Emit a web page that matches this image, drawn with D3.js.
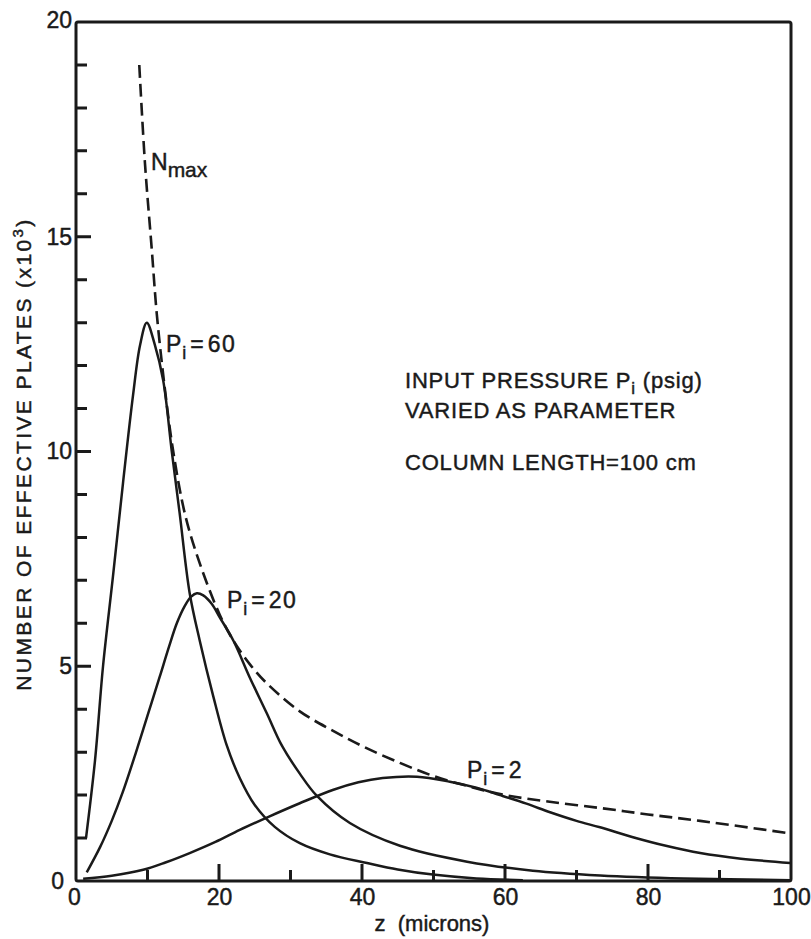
<!DOCTYPE html>
<html>
<head>
<meta charset="utf-8">
<script src="https://cdn.jsdelivr.net/npm/d3@7"></script>
<style>
  html, body { margin: 0; padding: 0; background: #fff; }
  svg { display: block; }
  text { font-family: "Liberation Sans", Arial, Helvetica, sans-serif; fill: #1a1a1a; stroke: #1a1a1a; stroke-width: 0.45; }
</style>
</head>
<body>
<svg id="chart" width="811" height="939"></svg>
<script>
// ---------------- DATA ----------------
const xTickLabels = [0, 20, 40, 60, 80, 100];
const xMinorTicks = [10, 30, 50, 70, 90];
const xMajorTicks = [20, 40, 60, 80];
const yTickLabels = [0, 5, 10, 15, 20];
const yMajorTicks = [5, 10, 15];
const yMinorTicks = [1,2,3,4,6,7,8,9,11,12,13,14,16,17,18,19];

// N_max (dashed)
const zNmax = [8.85, 9.65, 10.6, 11.3, 12.4, 13.6, 15.3, 17.3, 20.1, 22.0, 24.3, 26.7, 31.3, 35.9, 40.3, 45.3, 49.9, 55, 60, 66, 73.3, 80, 87.3, 99.4];
const vNmax = [19.0, 16.7, 14.7, 13.2, 11.5, 10.0, 8.5, 7.4, 6.2, 5.6, 5.05, 4.6, 3.95, 3.5, 3.12, 2.75, 2.45, 2.2, 2.0, 1.85, 1.70, 1.55, 1.40, 1.12];

// P_i = 60
const zP60 = [1.4, 2.66, 3.78, 5.17, 6.57, 7.97, 8.95, 9.9, 11.0, 12.2, 13.4, 14.5, 15.9, 17.3, 19.2, 21.1, 22.9, 25.0, 27.8, 31.3, 35.5, 40.7, 45, 49.9, 56, 62.5];
const vP60 = [1.0, 2.81, 5.0, 7.09, 9.26, 11.3, 12.47, 13.0, 12.5, 11.65, 10.0, 8.56, 6.7, 5.6, 4.3, 3.15, 2.4, 1.77, 1.26, 0.88, 0.62, 0.42, 0.27, 0.15, 0.06, 0.02];

// P_i = 20
const zP20 = [1.5, 3.4, 5.0, 6.5, 8.3, 10.0, 11.7, 13.0, 14.1, 15.2, 16.1, 16.9, 17.8, 19.0, 20.1, 22.0, 24.3, 26.7, 28.8, 31.3, 33.7, 38.3, 45.3, 54.7, 63.9, 73.3, 85, 100];
const vP20 = [0.2, 0.8, 1.4, 2.05, 2.95, 3.85, 4.75, 5.45, 6.0, 6.4, 6.62, 6.7, 6.65, 6.45, 6.14, 5.6, 4.74, 3.9, 3.15, 2.5, 1.98, 1.35, 0.82, 0.45, 0.24, 0.13, 0.06, 0.02];

// P_i = 2
const zP2 = [1.0, 5, 9.4, 12.5, 15.9, 19.5, 22.9, 27, 31.3, 35.9, 39.5, 42.9, 47.7, 52.3, 56, 59.3, 63, 66.3, 70, 73.3, 77.9, 82.5, 87.3, 93, 99.9];
const vP2 = [0.05, 0.12, 0.26, 0.43, 0.65, 0.91, 1.19, 1.5, 1.81, 2.12, 2.3, 2.4, 2.43, 2.31, 2.17, 2.0, 1.8, 1.6, 1.4, 1.25, 1.02, 0.82, 0.65, 0.52, 0.42];

// ---------------- DRAW ----------------
const svg = d3.select("#chart");
const L = 76, R = 791, T = 22, B = 881;
const x = d3.scaleLinear().domain([0, 100]).range([L, R]);
const y = d3.scaleLinear().domain([0, 20]).range([B, T]);
const ink = "#1a1a1a";

// frame
svg.append("rect").attr("x", L).attr("y", T).attr("width", R - L).attr("height", B - T)
  .attr("fill", "none").attr("stroke", ink).attr("stroke-width", 3).attr("rx", 2);

// inside tick marks: one path, built from the scales
const tickPath = d3.path();
xMinorTicks.forEach(d => { tickPath.moveTo(x(d), B); tickPath.lineTo(x(d), B - 11); });
xMajorTicks.forEach(d => { tickPath.moveTo(x(d), B); tickPath.lineTo(x(d), B - 17); });
yMinorTicks.forEach(d => { tickPath.moveTo(L, y(d)); tickPath.lineTo(L + 11, y(d)); });
yMajorTicks.forEach(d => { tickPath.moveTo(L, y(d)); tickPath.lineTo(L + 15, y(d)); });
svg.append("path").attr("d", tickPath.toString())
  .attr("fill", "none").attr("stroke", ink).attr("stroke-width", 3);

// tick labels through d3 axes
const gxl = svg.append("g").attr("transform", `translate(0,${B})`)
  .call(d3.axisBottom(x).tickValues(xTickLabels).tickSize(0).tickPadding(8).tickFormat(d3.format("d")));
gxl.select(".domain").remove();
gxl.selectAll("text").attr("font-size", 23).attr("fill", ink)
  .attr("font-family", "Liberation Sans, Arial, sans-serif")
  .attr("dx", d => d === 0 ? -2 : 0);

const gyl = svg.append("g").attr("transform", `translate(${L},0)`)
  .call(d3.axisLeft(y).tickValues(yTickLabels).tickSize(0).tickPadding(4).tickFormat(d3.format("d")));
gyl.select(".domain").remove();
gyl.selectAll("text").attr("font-size", 23).attr("fill", ink)
  .attr("font-family", "Liberation Sans, Arial, sans-serif")
  .attr("dx", d => d === 0 ? -8 : 0)
  .attr("dy", d => d === 20 ? "0.25em" : "0.32em");

// curves
const line = d3.line().x(d => x(d[0])).y(d => y(d[1])).curve(d3.curveCatmullRom.alpha(0.5));
const pairs = (zs, vs) => zs.map((z, i) => [z, vs[i]]);

svg.append("path").datum(pairs(zNmax, vNmax)).attr("d", line)
  .attr("fill", "none").attr("stroke", ink).attr("stroke-width", 2.6)
  .attr("stroke-dasharray", "13,6");
[[zP60, vP60], [zP20, vP20], [zP2, vP2]].forEach(([zs, vs]) => {
  svg.append("path").datum(pairs(zs, vs)).attr("d", line)
    .attr("fill", "none").attr("stroke", ink).attr("stroke-width", 2.5)
    .attr("stroke-linejoin", "round");
});

// curve labels
function pLabel(xp, yp, val) {
  const t = svg.append("text").attr("x", xp).attr("y", yp).attr("font-size", 23);
  t.append("tspan").text("P");
  t.append("tspan").attr("font-size", 18).attr("dy", 7).attr("dx", 1).text("i");
  t.append("tspan").attr("dy", -7).attr("dx", 4).text("=");
  t.append("tspan").attr("dx", 4).attr("letter-spacing", 1.5).text(val);
}
pLabel(166, 352, "60");
pLabel(227, 608, "20");
pLabel(467, 778, "2");

const nm = svg.append("text").attr("x", 151).attr("y", 170).attr("font-size", 23);
nm.append("tspan").text("N");
nm.append("tspan").attr("font-size", 21).attr("dy", 7).attr("dx", 0).text("max");

// annotation block
const ann = svg.append("g").attr("font-size", 22).attr("letter-spacing", 0.8);
const a1 = ann.append("text").attr("x", 405).attr("y", 388);
a1.append("tspan").text("INPUT PRESSURE P");
a1.append("tspan").attr("font-size", 17).attr("dy", 6).text("i");
a1.append("tspan").attr("dy", -6).text(" (psig)");
ann.append("text").attr("x", 405).attr("y", 418).text("VARIED AS PARAMETER");
ann.append("text").attr("x", 405).attr("y", 470).text("COLUMN LENGTH=100 cm");

// axis titles
svg.append("text").attr("x", 432).attr("y", 931)
  .attr("text-anchor", "middle").attr("font-size", 22).attr("xml:space", "preserve")
  .text("z  (microns)");

const yt = svg.append("text").attr("transform", "translate(31,454) rotate(-90)")
  .attr("text-anchor", "middle").attr("font-size", 21).attr("letter-spacing", 2.4);
yt.append("tspan").text("NUMBER OF EFFECTIVE PLATES (x10");
yt.append("tspan").attr("font-size", 15).attr("dy", -8).text("3");
yt.append("tspan").attr("dy", 8).text(")");
</script>
</body>
</html>
